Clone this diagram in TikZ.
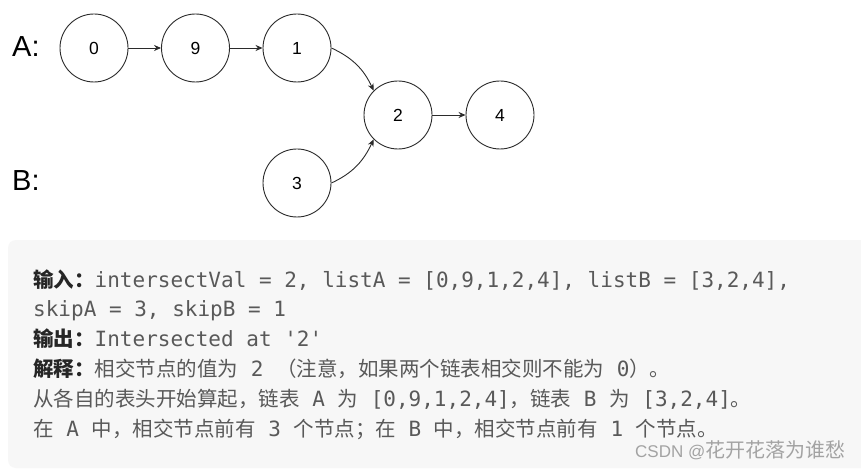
\documentclass[tikz,border=0pt]{standalone}
\usepackage{fontspec}
\setmainfont{Liberation Sans}
\newfontfamily\monof{DejaVu Sans Mono}[Ligatures=TeXOff]
\newfontfamily\cjkf{Noto Sans CJK SC}
\usetikzlibrary{arrows.meta}
\definecolor{boxbg}{HTML}{F7F7F7}
\definecolor{txt}{HTML}{595959}
\definecolor{lbl}{HTML}{262626}
\definecolor{wm}{HTML}{A3A3A3}
\definecolor{ink}{HTML}{2B2B2B}
\newcommand\Mo[1]{{\monof\fontsize{21}{25}\selectfont #1}}
\newcommand\Zh[1]{{\cjkf\fontsize{20.5}{25}\selectfont #1}}
\newcommand\Zb[1]{{\cjkf\bfseries\fontsize{20.5}{25}\selectfont\color{lbl}#1}}
\begin{document}
\begin{tikzpicture}[x=1pt,y=1pt,
  listnode/.style={circle,draw=ink,line width=0.9pt,minimum size=68pt,inner sep=0pt,font=\fontsize{17.5}{20}\selectfont},
  link/.style={draw=ink,line width=0.9pt,-{Stealth[length=7pt,width=6pt]}},
  rowlabel/.style={anchor=base west,inner sep=0pt,font=\fontsize{29}{32}\selectfont},
  tline/.style={anchor=base west,inner sep=0pt,text=txt}]
\useasboundingbox (0,0) rectangle (861,-470);
\fill[white] (0,0) rectangle (861,-470);
\fill[boxbg,rounded corners=8pt] (8,-240) rectangle (890,-468);

\node[rowlabel] (la) at (12,-56.7) {A:};
\node[rowlabel] (lb) at (12,-190.7) {B:};

\node[listnode] (n0) at (94,-48) {0};
\node[listnode] (n9) at (195.5,-48) {9};
\node[listnode] (n1) at (297,-48) {1};
\node[listnode] (n2) at (398,-115) {2};
\node[listnode] (n4) at (500,-115) {4};
\node[listnode] (n3) at (297,-183) {3};

\draw[link] (n0) -- (n9);
\draw[link] (n9) -- (n1);
\draw[link] (n1.east) to[out=-25,in=115] (n2.north west);
\draw[link] (n3.east) to[out=25,in=-115] (n2.south west);
\draw[link] (n2) -- (n4);

\node[tline] (t1) at (33,-287) {\Zb{输入：}\Mo{intersectVal~=~2,~listA~=~[0,9,1,2,4],~listB~=~[3,2,4],}};
\node[tline] (t2) at (33,-316.8) {\Mo{skipA~=~3,~skipB~=~1}};
\node[tline] (t3) at (33,-346.6) {\Zb{输出：}\Mo{Intersected~at~'2'}};
\node[tline] (t4) at (33,-376.4) {\Zb{解释：}\Zh{相交节点的值为}\Mo{~2~}\Zh{（注意，如果两个链表相交则不能为}\Mo{~0}\Zh{）。}};
\node[tline] (t5) at (33,-406.2) {\Zh{从各自的表头开始算起，链表}\Mo{~A~}\Zh{为}\Mo{~[0,9,1,2,4]}\Zh{，链表}\Mo{~B~}\Zh{为}\Mo{~[3,2,4]}\Zh{。}};
\node[tline] (t6) at (33,-436) {\Zh{在}\Mo{~A~}\Zh{中，相交节点前有}\Mo{~3~}\Zh{个节点；在}\Mo{~B~}\Zh{中，相交节点前有}\Mo{~1~}\Zh{个节点。}};

\node[anchor=base west,inner sep=0pt,text=wm] (wmk) at (635,-457) {\fontsize{17}{20}\selectfont CSDN @{\cjkf\fontsize{20}{22}\selectfont 花开花落为谁愁}};
\end{tikzpicture}
\end{document}
